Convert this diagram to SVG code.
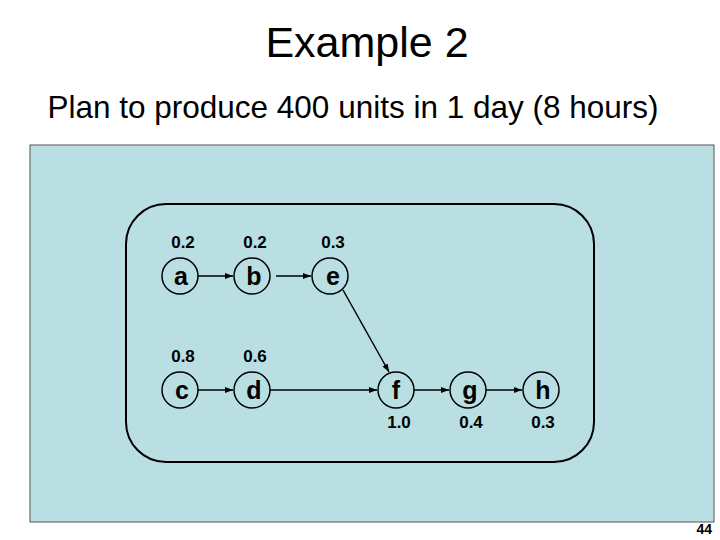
<svg xmlns="http://www.w3.org/2000/svg" width="720" height="540" viewBox="0 0 720 540">
<style>
text{font-family:"Liberation Sans",Arial,sans-serif;fill:#000}
.n circle{fill:none;stroke:#000;stroke-width:1.5}
.n text{font-size:25px;font-weight:bold;text-anchor:middle}
.n text.v{font-size:17px}
#edges line{stroke:#000;stroke-width:1.5;marker-end:url(#ah)}
</style>
<defs><marker id="ah" markerWidth="8" markerHeight="6" refX="8" refY="3" orient="auto" markerUnits="userSpaceOnUse"><path d="M0,0L8,3L0,6z" fill="#000"/></marker></defs>
<rect width="720" height="540" fill="#fff"/>
<text x="367" y="57" font-size="43" text-anchor="middle">Example 2</text>
<text x="353" y="118" font-size="31.5" text-anchor="middle">Plan to produce 400 units in 1 day (8 hours)</text>
<rect x="30" y="145" width="684" height="377" fill="#B9DFE3" stroke="#555" stroke-width="1"/>
<rect x="126" y="204" width="468" height="258" rx="40" fill="none" stroke="#000" stroke-width="2"/>
<g id="edges">
<line x1="198" y1="276" x2="233" y2="276"/>
<line x1="276" y1="276" x2="311" y2="276"/>
<line x1="343" y1="290" x2="389" y2="372"/>
<line x1="198" y1="390" x2="233" y2="390"/>
<line x1="270" y1="390" x2="377" y2="390"/>
<line x1="414" y1="390" x2="449" y2="390"/>
<line x1="486" y1="390" x2="522" y2="390"/>
</g>
<g id="a" class="n"><circle cx="180" cy="276" r="18"/><text x="181" y="285">a</text><text class="v" x="183" y="248">0.2</text></g>
<g id="b" class="n"><circle cx="252" cy="276" r="18"/><text x="254" y="285">b</text><text class="v" x="255" y="248">0.2</text></g>
<g id="e" class="n"><circle cx="330" cy="276" r="18"/><text x="333" y="285">e</text><text class="v" x="333" y="248">0.3</text></g>
<g id="c" class="n"><circle cx="180" cy="390" r="18"/><text x="182" y="399">c</text><text class="v" x="183" y="362">0.8</text></g>
<g id="d" class="n"><circle cx="252" cy="390" r="18"/><text x="254" y="399">d</text><text class="v" x="255" y="362">0.6</text></g>
<g id="f" class="n"><circle cx="396" cy="390" r="18"/><text x="396" y="399">f</text><text class="v" x="399" y="428">1.0</text></g>
<g id="g" class="n"><circle cx="468" cy="390" r="18"/><text x="470" y="399">g</text><text class="v" x="471" y="428">0.4</text></g>
<g id="h" class="n"><circle cx="541" cy="390" r="18"/><text x="543" y="399">h</text><text class="v" x="543" y="428">0.3</text></g>
<text x="712" y="534" font-size="14" font-weight="bold" text-anchor="end">44</text>
</svg>
